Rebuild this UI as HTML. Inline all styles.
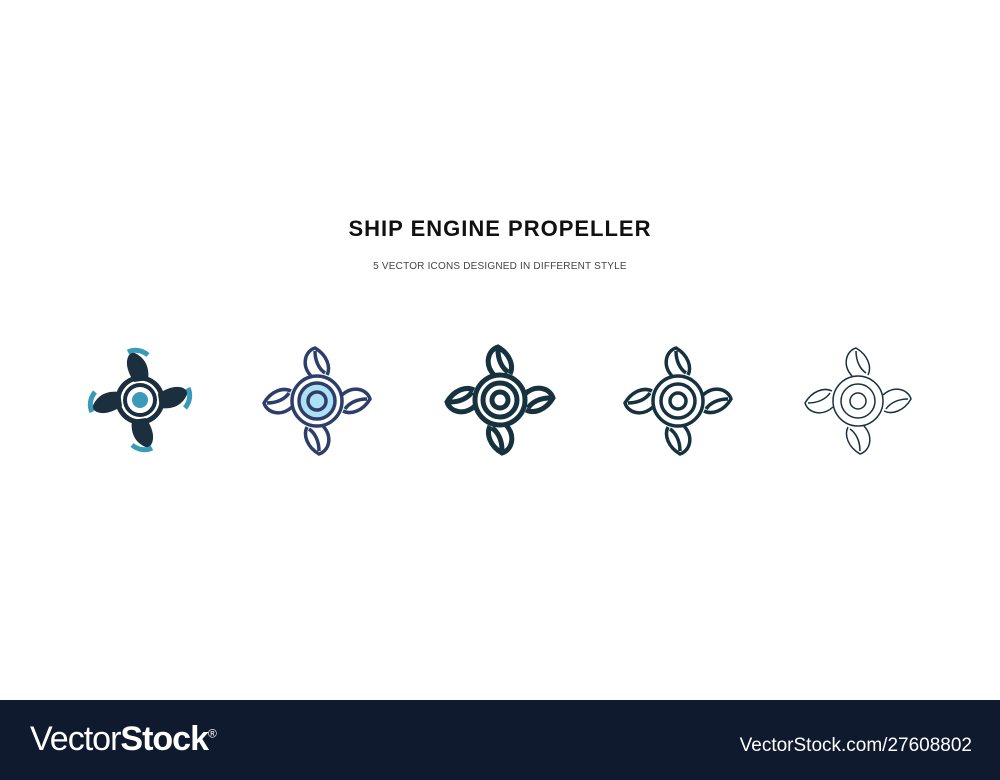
<!DOCTYPE html>
<html><head><meta charset="utf-8"><style>
body{margin:0;width:1000px;height:780px;background:#fff;position:relative;overflow:hidden;font-family:"Liberation Sans",sans-serif}
.t{position:absolute;width:1000px;text-align:center}
</style></head><body>
<div class="t" style="top:216px;font-size:22px;font-weight:bold;letter-spacing:1px;color:#111">SHIP ENGINE PROPELLER</div>
<div class="t" style="top:261px;font-size:10px;color:#444;letter-spacing:.2px">5 VECTOR ICONS DESIGNED IN DIFFERENT STYLE</div>
<svg width="1000" height="700" style="position:absolute;left:0;top:0">
<defs>
<path id="leaf" d="M-6,-25 C-16,-36 -12,-50 -2,-53 C10,-46 14,-34 10,-26"/>
<path id="leafin" d="M-2,-50 C-2,-40 2,-32 8,-28"/>
</defs>
<g transform="translate(140,400)">
<g fill="#1b2f3f"><circle r="22" fill="none" stroke="#1b2f3f" stroke-width="5"/>
<g id="b1"><path d="M-6,-18 C-14,-30 -16,-42 -8,-48 C4,-44 10,-34 8,-20 Z"/></g>
<use href="#b1" transform="rotate(90)"/><use href="#b1" transform="rotate(180)"/><use href="#b1" transform="rotate(270)"/></g>
<circle r="15" fill="#fff" stroke="#1b2f3f" stroke-width="4"/>
<circle r="8" fill="#3a9bb8"/>
<g fill="none" stroke="#3a9bb8" stroke-width="5"><g id="a1"><path d="M-12,-48 C-6,-51 2,-50 8,-45"/></g>
<use href="#a1" transform="rotate(90)"/><use href="#a1" transform="rotate(180)"/><use href="#a1" transform="rotate(270)"/></g>
</g>
<g transform="translate(317,401)" stroke="#2e3e6a" stroke-width="3.5" fill="none">
<g id="b2"><use href="#leaf"/><use href="#leafin"/></g>
<use href="#b2" transform="rotate(90)"/><use href="#b2" transform="rotate(180)"/><use href="#b2" transform="rotate(270)"/>
<circle r="25" fill="#fff"/><circle r="18" fill="#aee0f5"/><circle r="9" fill="#aee0f5"/>
</g>
<g transform="translate(500,400)" stroke="#17323f" stroke-width="5" fill="none">
<g id="b3"><use href="#leaf"/><use href="#leafin"/></g>
<use href="#b3" transform="rotate(90)"/><use href="#b3" transform="rotate(180)"/><use href="#b3" transform="rotate(270)"/>
<circle r="25" fill="#fff"/><circle r="17"/><circle r="8"/>
</g>
<g transform="translate(678,401)" stroke="#17323f" stroke-width="3.5" fill="none">
<g id="b4"><use href="#leaf"/><use href="#leafin"/></g>
<use href="#b4" transform="rotate(90)"/><use href="#b4" transform="rotate(180)"/><use href="#b4" transform="rotate(270)"/>
<circle r="25" fill="#fff"/><circle r="17"/><circle r="8"/>
</g>
<g transform="translate(858,401)" stroke="#17323f" stroke-width="1.5" fill="none">
<g id="b5"><use href="#leaf"/><use href="#leafin"/></g>
<use href="#b5" transform="rotate(90)"/><use href="#b5" transform="rotate(180)"/><use href="#b5" transform="rotate(270)"/>
<circle r="25" fill="#fff"/><circle r="17"/><circle r="8"/>
</g>
</svg>
<div style="position:absolute;left:0;top:700px;width:1000px;height:80px;background:#0f1a2e">
<div style="position:absolute;left:30px;top:20px;color:#fff;font-size:34px;letter-spacing:-1px">Vector<b>Stock</b><sup style="font-size:12px">®</sup></div>
<div style="position:absolute;right:28px;top:35px;color:#fff;font-size:19px">VectorStock.com/27608802</div>
</div>
</body></html>
